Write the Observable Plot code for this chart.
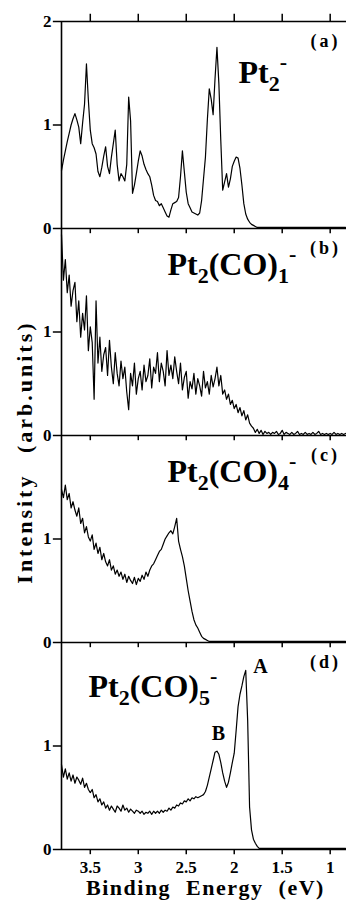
<!DOCTYPE html>
<html><head><meta charset="utf-8">
<script src="https://cdn.jsdelivr.net/npm/d3@7"></script>
<script src="https://cdn.jsdelivr.net/npm/@observablehq/plot@0.6"></script>
<style>html,body{margin:0;padding:0;background:#fff}svg{display:block}</style>
</head><body><div id="chart"></div>
<script>
// ---- data ----
const panels = ["a", "b", "c", "d"];
// sampling grid of binding energies (eV), 3.80 down to 0.84 in 0.02 steps
const energy = d3.range(149).map(k => Math.round((3.80 - 0.02 * k) * 100) / 100);

const pt2 = [
0.56,0.66,0.75,0.84,0.92,1.00,1.06,1.11,1.05,0.98,
0.82,1.02,1.20,1.59,1.24,0.95,0.82,0.78,0.72,0.55,
0.50,0.59,0.70,0.79,0.60,0.53,0.69,0.82,0.95,0.62,
0.46,0.53,0.50,0.46,0.62,1.27,1.04,0.34,0.42,0.53,
0.65,0.75,0.70,0.62,0.57,0.53,0.50,0.42,0.32,0.27,
0.26,0.22,0.24,0.20,0.16,0.12,0.11,0.18,0.24,0.25,
0.26,0.30,0.50,0.75,0.55,0.35,0.24,0.20,0.16,0.15,
0.14,0.13,0.15,0.27,0.48,0.69,1.05,1.35,1.25,1.10,
1.45,1.75,1.40,0.85,0.37,0.45,0.53,0.40,0.48,0.60,
0.65,0.69,0.68,0.58,0.42,0.24,0.14,0.09,0.06,0.04,
0.03,0.02,0.01,0.01,0.01,0.01,0.01,0.01,0.01,0.01,
0.01,0.01,0.01,0.01,0.01,0.01,0.01,0.01,0.01,0.01,
0.01,0.01,0.01,0.01,0.01,0.01,0.01,0.01,0.01,0.01,
0.01,0.01,0.01,0.01,0.01,0.01,0.01,0.01,0.01,0.01,
0.01,0.01,0.01,0.01,0.01,0.01,0.01,0.01,0.01];

const pt2co1 = [
1.94,1.50,1.70,1.38,1.55,1.25,1.40,1.48,1.10,1.30,
0.95,1.18,1.02,1.35,0.82,1.05,0.90,0.35,1.30,0.70,
0.95,0.62,0.78,0.85,0.58,0.92,0.66,0.50,0.80,0.60,
0.48,0.72,0.55,0.66,0.42,0.25,0.60,0.48,0.70,0.40,
0.55,0.62,0.44,0.68,0.52,0.58,0.74,0.46,0.66,0.60,
0.80,0.52,0.70,0.62,0.48,0.82,0.58,0.68,0.55,0.76,
0.62,0.50,0.70,0.44,0.56,0.62,0.36,0.52,0.45,0.60,
0.40,0.55,0.48,0.38,0.62,0.46,0.52,0.40,0.58,0.47,
0.55,0.66,0.48,0.58,0.40,0.44,0.35,0.40,0.30,0.34,
0.26,0.30,0.22,0.27,0.19,0.24,0.15,0.20,0.12,0.09,
0.07,0.03,0.06,0.02,0.05,0.01,0.04,0.02,0.03,0.01,
0.03,0.02,0.04,0.01,0.02,0.05,0.01,0.03,0.02,0.01,
0.03,0.01,0.02,0.04,0.01,0.02,0.01,0.03,0.01,0.02,
0.01,0.03,0.01,0.02,0.04,0.01,0.02,0.01,0.02,0.01,
0.02,0.01,0.03,0.01,0.02,0.01,0.02,0.01,0.02];

const pt2co4 = [
1.48,1.40,1.52,1.38,1.44,1.30,1.36,1.28,1.22,1.30,
1.15,1.20,1.06,1.12,1.02,0.98,1.04,0.90,0.96,0.86,
0.92,0.80,0.86,0.78,0.74,0.80,0.70,0.74,0.66,0.70,
0.64,0.68,0.61,0.66,0.58,0.64,0.60,0.57,0.63,0.56,
0.62,0.59,0.65,0.61,0.68,0.64,0.70,0.74,0.76,0.80,
0.84,0.88,0.90,0.95,1.00,1.03,1.06,1.08,1.05,1.12,
1.20,0.98,0.90,0.83,0.74,0.62,0.50,0.40,0.30,0.22,
0.17,0.14,0.10,0.06,0.04,0.03,0.02,0.01,0.01,0.01,
0.01,0.01,0.01,0.01,0.01,0.01,0.01,0.01,0.01,0.01,
0.01,0.01,0.01,0.01,0.01,0.01,0.01,0.01,0.01,0.01,
0.01,0.01,0.01,0.01,0.01,0.01,0.01,0.01,0.01,0.01,
0.01,0.01,0.01,0.01,0.01,0.01,0.01,0.01,0.01,0.01,
0.01,0.01,0.01,0.01,0.01,0.01,0.01,0.01,0.01,0.01,
0.01,0.01,0.01,0.01,0.01,0.01,0.01,0.01,0.01,0.01,
0.01,0.01,0.01,0.01,0.01,0.01,0.01,0.01,0.01];

const pt2co5 = [
0.82,0.70,0.78,0.68,0.74,0.66,0.72,0.64,0.70,0.67,
0.63,0.69,0.60,0.64,0.58,0.55,0.58,0.50,0.53,0.46,
0.49,0.43,0.46,0.40,0.43,0.38,0.42,0.39,0.36,0.42,
0.40,0.37,0.43,0.38,0.40,0.36,0.39,0.37,0.35,0.38,
0.37,0.35,0.37,0.34,0.36,0.35,0.37,0.34,0.37,0.35,
0.37,0.35,0.38,0.36,0.38,0.37,0.40,0.38,0.41,0.40,
0.43,0.42,0.45,0.44,0.47,0.46,0.49,0.47,0.50,0.49,
0.51,0.50,0.51,0.52,0.53,0.56,0.62,0.70,0.78,0.86,
0.94,0.95,0.92,0.84,0.74,0.66,0.60,0.65,0.74,0.84,
0.93,1.15,1.38,1.50,1.58,1.67,1.73,1.25,0.41,0.19,
0.10,0.06,0.03,0.01,0.01,0.01,0.01,0.01,0.01,0.01,
0.01,0.01,0.01,0.01,0.01,0.01,0.01,0.01,0.01,0.01,
0.01,0.01,0.01,0.01,0.01,0.01,0.01,0.01,0.01,0.01,
0.01,0.01,0.01,0.01,0.01,0.01,0.01,0.01,0.01,0.01,
0.01,0.01,0.01,0.01,0.01,0.01,0.01,0.01,0.01];

const series = {a: pt2, b: pt2co1, c: pt2co4, d: pt2co5};
const speciesLabels = ["Pt_2^-", "Pt_2(CO)_1^-", "Pt_2(CO)_4^-", "Pt_2(CO)_5^-"];
const panelTags = ["(a)", "(b)", "(c)", "(d)"];
const xTicks = [3.5, 3, 2.5, 2, 1.5, 1];
const xTickLabels = ["3.5", "3", "2.5", "2", "1.5", "1"];
const yTicks = [0, 1];
const peakLabels = ["A", "B"];
const xTitle = "Binding Energy (eV)";
const yTitle = "Intensity (arb.units)";

// ---- tables built from the arrays ----
const rows = panels.flatMap(p => energy.map((E, i) => ({panel: p, E, I: series[p][i]})));
const speciesPos = [[1.956, 1.41], [2.696, 1.546], [2.696, 1.553], [3.519, 1.47]];
const speciesRows = panels.map((p, i) => ({panel: p, label: speciesLabels[i], x: speciesPos[i][0], y: speciesPos[i][1]}));
const tagRows = panels.map((p, i) => ({panel: p, label: panelTags[i]}));
const yTickRows = panels.flatMap(p => (p === "a" ? [...yTicks, 2] : yTicks).map(v => ({panel: p, v})));
const peakRows = [
  {panel: "d", label: peakLabels[0], x: 1.727, y: 1.77},
  {panel: "d", label: peakLabels[1], x: 2.165, y: 1.12}
];
const FONT = "Liberation Serif";
const T = {fontFamily: FONT, fontWeight: "bold", fill: "black"};

const plot = Plot.plot({
  width: 346, height: 902,
  marginLeft: 61, marginRight: 0, marginTop: 21, marginBottom: 53,
  style: {background: "white", fontFamily: FONT, overflow: "visible"},
  x: {domain: [3.8, 0.83], axis: null},
  y: {domain: [0, 2], axis: null},
  fy: {domain: panels, padding: 0, axis: null},
  marks: [
    Plot.line(rows, {x: "E", y: "I", fy: "panel", stroke: "black", strokeWidth: 1.2}),
    // frame lines
    Plot.ruleX([3.8], {stroke: "black", strokeWidth: 1.6}),
    Plot.ruleY([0], {stroke: "black", strokeWidth: 1.6}),
    Plot.ruleY([{panel: "a", v: 2}], {y: "v", fy: "panel", stroke: "black", strokeWidth: 1.6}),
    // x ticks
    Plot.ruleX(xTicks, {x: d => d, y1: 0, y2: -0.05, stroke: "black", strokeWidth: 1.5}),
    Plot.ruleX(xTicks.map(t => ({panel: "a", t})), {x: "t", fy: "panel", y1: 2, y2: 2.07, stroke: "black", strokeWidth: 1.5}),
    // y ticks
    Plot.ruleY(yTickRows, {y: "v", fy: "panel", x1: 3.8, x2: 3.885, stroke: "black", strokeWidth: 1.5}),
    Plot.text(yTickRows, {x: () => 3.8, y: "v", fy: "panel", text: d => String(d.v), dx: -10, textAnchor: "end", lineAnchor: "middle", fontSize: 17, ...T}),
    // x tick labels on bottom panel
    Plot.text(xTicks.map((t, i) => ({panel: "d", t, s: xTickLabels[i]})), {x: "t", y: () => 0, fy: "panel", text: "s", dy: 18, lineAnchor: "middle", fontSize: 17, ...T}),
    // axis titles
    Plot.text([{panel: "d"}], {x: () => 2.30, y: () => -0.44, fy: "panel", text: () => xTitle, textAnchor: "middle", lineAnchor: "bottom", fontSize: 22, ...T}),
    Plot.text([{panel: "c"}], {x: () => 4.18, y: () => 1.84, fy: "panel", text: () => yTitle, rotate: -90, textAnchor: "middle", lineAnchor: "middle", fontSize: 22, ...T}),
    // panel annotations
    Plot.text(speciesRows, {x: "x", y: "y", fy: "panel", text: "label", textAnchor: "start", lineAnchor: "bottom", fontSize: 32, ...T}),
    Plot.text(tagRows, {x: () => 1.05, y: () => 1.81, fy: "panel", text: "label", textAnchor: "middle", lineAnchor: "middle", fontSize: 18, ...T}),
    Plot.text(peakRows, {x: "x", y: "y", fy: "panel", text: "label", textAnchor: "middle", lineAnchor: "middle", fontSize: 20, ...T})
  ]
});

// rich text: subscripts and superscripts, spacing
d3.select(plot).selectAll("text").each(function () {
  const s = this.textContent;
  if (s === xTitle) { this.style.letterSpacing = "1.5px"; this.style.wordSpacing = "8px"; return; }
  if (s === yTitle) { this.style.letterSpacing = "3px"; this.style.wordSpacing = "12px"; return; }
  if (panelTags.includes(s)) { this.style.letterSpacing = "3px"; return; }
  if (!/[_^]/.test(s)) return;
  const segs = [...s.matchAll(/_(.)|\^(.)|([^_^]+)/g)].map(m => m[1] != null ? {t: m[1], k: "sub"} : m[2] != null ? {t: m[2], k: "sup"} : {t: m[3], k: "n"});
  while (this.firstChild) this.removeChild(this.firstChild);
  let cur = 0;
  for (const seg of segs) {
    const target = seg.k === "sub" ? 8 : seg.k === "sup" ? -14 : 0;
    const ts = document.createElementNS("http://www.w3.org/2000/svg", "tspan");
    ts.setAttribute("dy", target - cur);
    if (seg.k !== "n") ts.setAttribute("font-size", 22);
    ts.textContent = seg.t;
    this.appendChild(ts);
    cur = target;
  }
});

document.getElementById("chart").appendChild(plot);
</script>
</body></html>
